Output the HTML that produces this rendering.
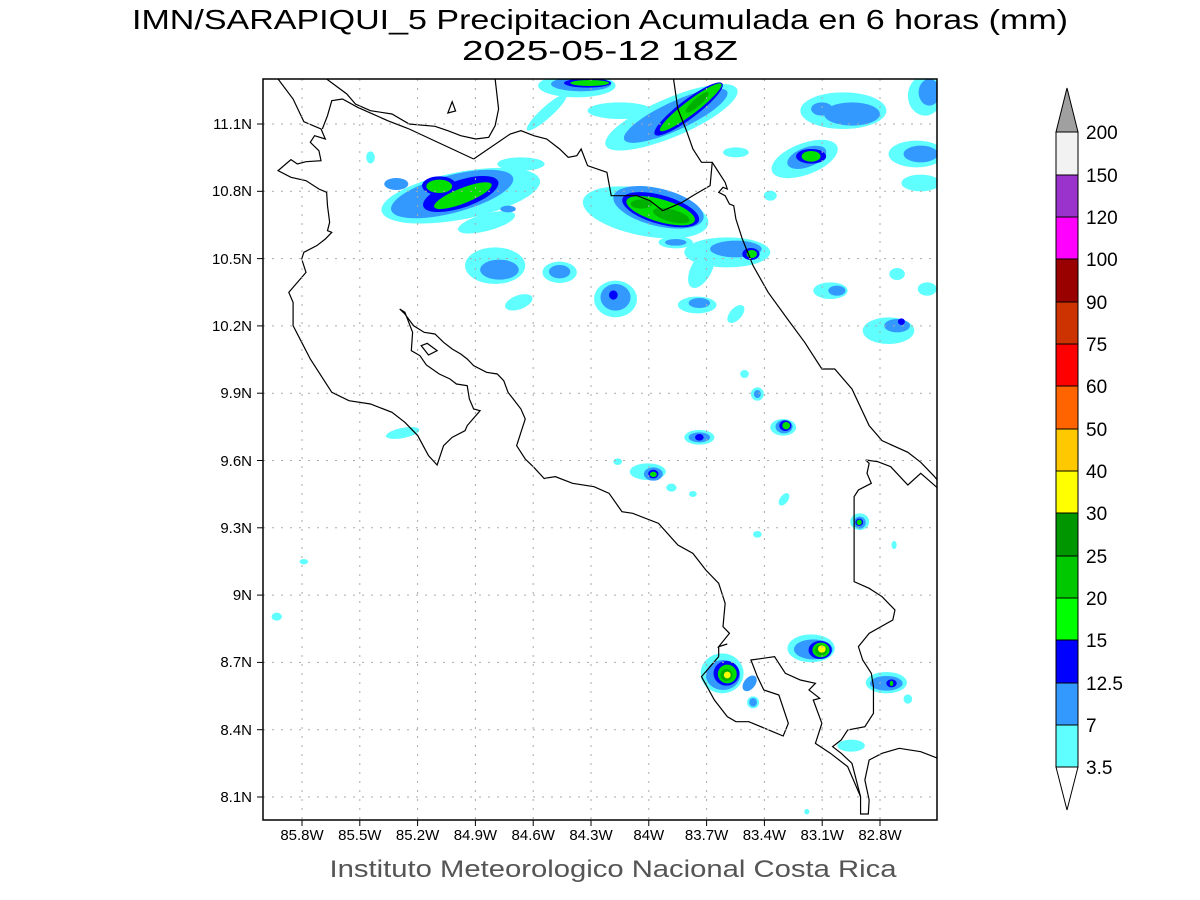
<!DOCTYPE html>
<html><head><meta charset="utf-8"><style>body{margin:0;background:#fff}svg{display:block}</style></head>
<body>
<svg width="1200" height="900" xmlns="http://www.w3.org/2000/svg" font-family="Liberation Sans, sans-serif">
<rect width="1200" height="900" fill="#fff"/>
<text x="600" y="29" font-size="28" text-anchor="middle" textLength="936" lengthAdjust="spacingAndGlyphs" fill="#000">IMN/SARAPIQUI_5 Precipitacion Acumulada en 6 horas (mm)</text>
<text x="600" y="60" font-size="28" text-anchor="middle" textLength="276" lengthAdjust="spacingAndGlyphs" fill="#000">2025-05-12 18Z</text>
<defs><clipPath id="c"><rect x="263" y="79" width="674" height="741"/></clipPath></defs>
<g clip-path="url(#c)">
<g transform="translate(263,79) scale(0.4299,0.33333)">
 <g fill="#60ffff">
  <ellipse cx="730" cy="20" rx="90" ry="35"/><ellipse cx="660" cy="100" rx="70" ry="15" transform="rotate(-50 660 100)"/>
  <ellipse cx="830" cy="95" rx="75" ry="25"/><ellipse cx="950" cy="115" rx="175" ry="55" transform="rotate(-30 950 115)"/>
  <ellipse cx="1350" cy="95" rx="100" ry="55"/><ellipse cx="1540" cy="50" rx="40" ry="60"/>
  <ellipse cx="1260" cy="240" rx="85" ry="45" transform="rotate(-30 1260 240)"/><ellipse cx="1520" cy="225" rx="65" ry="40"/>
  <ellipse cx="1530" cy="312" rx="45" ry="25"/><ellipse cx="1100" cy="220" rx="30" ry="15"/><ellipse cx="1180" cy="350" rx="15" ry="15"/>
  <ellipse cx="460" cy="350" rx="190" ry="70" transform="rotate(-15 460 350)"/><ellipse cx="250" cy="235" rx="10" ry="18"/>
  <ellipse cx="600" cy="255" rx="55" ry="20"/><ellipse cx="520" cy="430" rx="70" ry="25" transform="rotate(-20 520 430)"/>
  <ellipse cx="890" cy="400" rx="150" ry="70" transform="rotate(15 890 400)"/><ellipse cx="960" cy="490" rx="40" ry="18"/>
  <ellipse cx="1080" cy="520" rx="100" ry="45"/><ellipse cx="1020" cy="570" rx="25" ry="60" transform="rotate(20 1020 570)"/>
  <ellipse cx="540" cy="560" rx="70" ry="55"/><ellipse cx="690" cy="580" rx="40" ry="32"/><ellipse cx="820" cy="660" rx="50" ry="55"/>
  <ellipse cx="595" cy="670" rx="35" ry="20" transform="rotate(-30 595 670)"/><ellipse cx="1010" cy="678" rx="45" ry="25"/>
  <ellipse cx="1100" cy="705" rx="15" ry="30" transform="rotate(30 1100 705)"/><ellipse cx="1320" cy="635" rx="40" ry="25"/>
  <ellipse cx="1475" cy="585" rx="18" ry="18"/><ellipse cx="1545" cy="630" rx="22" ry="20"/><ellipse cx="1455" cy="755" rx="60" ry="40"/>
  <ellipse cx="325" cy="1062" rx="40" ry="15" transform="rotate(-15 325 1062)"/><ellipse cx="1150" cy="945" rx="15" ry="20"/>
  <ellipse cx="1210" cy="1045" rx="30" ry="25"/><ellipse cx="1015" cy="1075" rx="35" ry="22"/><ellipse cx="1120" cy="885" rx="10" ry="12"/>
 </g>
 <g fill="#3399ff">
  <ellipse cx="740" cy="15" rx="70" ry="22"/><ellipse cx="960" cy="110" rx="140" ry="40" transform="rotate(-32 960 110)"/>
  <ellipse cx="1370" cy="105" rx="65" ry="35"/><ellipse cx="1300" cy="90" rx="25" ry="20"/><ellipse cx="1550" cy="40" rx="25" ry="40"/>
  <ellipse cx="1265" cy="235" rx="50" ry="28" transform="rotate(-30 1265 235)"/><ellipse cx="1530" cy="225" rx="40" ry="25"/>
  <ellipse cx="440" cy="345" rx="150" ry="55" transform="rotate(-20 440 345)"/><ellipse cx="310" cy="315" rx="28" ry="18"/>
  <ellipse cx="920" cy="385" rx="110" ry="55" transform="rotate(20 920 385)"/><ellipse cx="1100" cy="510" rx="60" ry="25"/>
  <ellipse cx="550" cy="572" rx="45" ry="30"/><ellipse cx="690" cy="578" rx="25" ry="20"/><ellipse cx="820" cy="655" rx="35" ry="40"/>
  <ellipse cx="1015" cy="672" rx="25" ry="15"/><ellipse cx="1335" cy="635" rx="20" ry="15"/><ellipse cx="1475" cy="740" rx="30" ry="20"/>
  <ellipse cx="1150" cy="945" rx="8" ry="12"/><ellipse cx="1212" cy="1043" rx="20" ry="20"/><ellipse cx="1015" cy="1075" rx="25" ry="15"/>
  <ellipse cx="570" cy="390" rx="18" ry="10"/><ellipse cx="960" cy="490" rx="25" ry="10"/>
 </g>
 <g fill="#0000ff">
  <ellipse cx="755" cy="12" rx="55" ry="14"/><ellipse cx="990" cy="90" rx="110" ry="25" transform="rotate(-45 990 90)"/>
  <ellipse cx="1275" cy="232" rx="35" ry="22"/><ellipse cx="460" cy="345" rx="95" ry="40" transform="rotate(-25 460 345)"/>
  <ellipse cx="410" cy="320" rx="40" ry="28"/><ellipse cx="925" cy="392" rx="95" ry="42" transform="rotate(22 925 392)"/>
  <ellipse cx="1135" cy="525" rx="20" ry="18"/><ellipse cx="815" cy="648" rx="10" ry="14"/><ellipse cx="1485" cy="728" rx="8" ry="10"/>
  <ellipse cx="1215" cy="1040" rx="14" ry="16"/><ellipse cx="1015" cy="1075" rx="10" ry="10"/>
 </g>
 <g fill="#00e000">
  <ellipse cx="760" cy="12" rx="45" ry="9"/><ellipse cx="995" cy="85" rx="100" ry="18" transform="rotate(-45 995 85)"/>
  <ellipse cx="1275" cy="232" rx="22" ry="16"/><ellipse cx="465" cy="350" rx="75" ry="22" transform="rotate(-28 465 350)"/>
  <ellipse cx="410" cy="322" rx="30" ry="20"/><ellipse cx="925" cy="395" rx="85" ry="33" transform="rotate(22 925 395)"/>
  <ellipse cx="1137" cy="525" rx="12" ry="12"/><ellipse cx="1217" cy="1040" rx="9" ry="11"/>
 </g>
 <g fill="#00b000"><ellipse cx="950" cy="410" rx="45" ry="18" transform="rotate(20 950 410)"/><ellipse cx="1010" cy="70" rx="40" ry="10" transform="rotate(-50 1010 70)"/><ellipse cx="880" cy="375" rx="25" ry="14"/></g>
 <g fill="none" stroke="#000" stroke-width="1.2">
  <path vector-effect="non-scaling-stroke" d="M148,0 L195,45 215,75 250,95 300,105 340,135 400,142 430,155 460,170 495,180 525,175 540,140 548,90 540,0"/>
  <path vector-effect="non-scaling-stroke" d="M490,240 L440,210 340,150 290,125 220,85 185,60 160,65 150,110 138,150"/>
  <path vector-effect="non-scaling-stroke" d="M35,0 L70,60 95,128 135,150 145,180 120,170 110,190 130,215 135,245 100,248 80,255 65,242 35,275 65,295 100,305 130,330 148,340 150,380 155,430 150,455 160,460 145,480 125,500 95,520 90,540 100,580 80,610 60,640 70,670 70,740 90,790 110,840 160,940 200,965 250,975 300,1000 330,1030 360,1070 385,1130 405,1158 420,1100 440,1075 470,1055 475,1040 505,995 490,990 480,960 475,920 450,915 435,900 410,885 380,858 365,830 345,815 348,760 330,700 318,690 330,705 350,740 375,760 400,765 420,790 440,810 460,825 475,840 490,860 520,880 545,885 560,905 570,940 585,965 600,990 610,1020 600,1060 590,1100 610,1140 630,1165 655,1200"/>
  <path vector-effect="non-scaling-stroke" d="M430,102 L440,68 448,96 Z"/>
  <path vector-effect="non-scaling-stroke" d="M368,800 L382,793 405,815 385,828 Z"/>
  <path vector-effect="non-scaling-stroke" d="M490,240 L575,165 600,155 630,170 660,180 690,210 710,235 730,230 740,210 755,260 800,280 810,350 870,350 900,365 930,395 975,370 1000,350 1040,320 1045,250"/>
  <path vector-effect="non-scaling-stroke" d="M955,0 L965,90 985,155 1000,210 1020,250 1045,250 1055,270 1075,310 1080,330 1070,325 1060,340 1075,350 1085,375 1095,380 1100,420 1115,480 1140,560 1175,640 1220,720 1260,790 1300,870 1330,870 1370,930 1410,1040 1440,1085 1500,1120 1530,1150 1560,1190 1570,1205"/>
 </g>
</g>
<g transform="translate(263,460) scale(0.4299,0.33333)">
 <g fill="#60ffff">
  <ellipse cx="895" cy="35" rx="42" ry="25"/><ellipse cx="950" cy="83" rx="12" ry="12"/><ellipse cx="1000" cy="102" rx="9" ry="9"/>
  <ellipse cx="1212" cy="118" rx="10" ry="20" transform="rotate(25 1212 118)"/><ellipse cx="1388" cy="185" rx="22" ry="25"/>
  <ellipse cx="1150" cy="223" rx="10" ry="10"/><ellipse cx="95" cy="305" rx="10" ry="8"/><ellipse cx="32" cy="470" rx="12" ry="12"/>
  <ellipse cx="1275" cy="565" rx="55" ry="42"/><ellipse cx="1068" cy="640" rx="50" ry="60"/><ellipse cx="1140" cy="727" rx="14" ry="18"/>
  <ellipse cx="1450" cy="668" rx="48" ry="32"/><ellipse cx="1500" cy="717" rx="10" ry="14"/><ellipse cx="1368" cy="857" rx="32" ry="18"/>
  <ellipse cx="1468" cy="255" rx="6" ry="12"/><ellipse cx="1265" cy="1055" rx="6" ry="8"/><ellipse cx="825" cy="5" rx="10" ry="10"/>
 </g>
 <g fill="#3399ff">
  <ellipse cx="908" cy="42" rx="22" ry="20"/><ellipse cx="1388" cy="188" rx="14" ry="18"/><ellipse cx="1280" cy="568" rx="45" ry="30"/>
  <ellipse cx="1070" cy="645" rx="40" ry="45"/><ellipse cx="1132" cy="670" rx="14" ry="25" transform="rotate(25 1132 670)"/>
  <ellipse cx="1140" cy="727" rx="9" ry="13"/><ellipse cx="1450" cy="670" rx="38" ry="22"/>
 </g>
 <g fill="#0000ff"><ellipse cx="908" cy="42" rx="12" ry="13"/><ellipse cx="1296" cy="570" rx="27" ry="27"/><ellipse cx="1078" cy="640" rx="30" ry="37"/><ellipse cx="1462" cy="670" rx="12" ry="12"/><ellipse cx="1387" cy="187" rx="9" ry="11"/></g>
 <g fill="#00e000"><ellipse cx="908" cy="43" rx="8" ry="8"/><ellipse cx="1298" cy="570" rx="20" ry="22"/><ellipse cx="1080" cy="642" rx="22" ry="28"/><ellipse cx="1387" cy="187" rx="6" ry="8"/><ellipse cx="1462" cy="670" rx="4" ry="8"/></g>
 <g fill="#00b000"><ellipse cx="1298" cy="570" rx="14" ry="16"/><ellipse cx="1078" cy="645" rx="14" ry="18"/></g>
 <g fill="#ffff00"><ellipse cx="1300" cy="567" rx="9" ry="11"/><ellipse cx="1080" cy="645" rx="8" ry="10"/></g>
 <g fill="none" stroke="#000" stroke-width="1.2">
  <path vector-effect="non-scaling-stroke" d="M1060,590 L1020,650 1050,720 1080,770 1100,785 1130,785 1210,828 1222,790 1200,705 1165,690 1150,650 1135,600 1190,590 1215,640 1250,660 1285,670 1270,690 1295,715 1280,720 1300,790 1285,850 1320,880 1360,920 1390,1010 1390,1062 1408,1062 1410,1020 1400,960 1410,900 1440,880 1480,865 1530,875 1570,895"/>
  <path vector-effect="non-scaling-stroke" d="M1060,590 L1060,560 1080,552 1060,560 1085,520 1070,500 1075,430 1060,370 1030,330 1000,280 965,255 920,190 860,160 835,155 805,100 770,80 720,70 680,50 655,55"/>
  <path vector-effect="non-scaling-stroke" d="M1402,0 L1410,10 1405,40 1415,70 1385,90 1375,110 1375,365 1410,385 1440,410 1470,450 1465,480 1410,520 1385,560 1395,600 1415,640 1420,680 1420,760 1400,800 1360,810 1345,840 1325,860 1345,880 1370,910 1390,1010"/>
  <path vector-effect="non-scaling-stroke" d="M1402,0 L1430,5 1460,20 1500,75 1530,40 1570,85"/>
 </g>
</g>
<g stroke="#aaa" stroke-width="1" stroke-dasharray="2,7">
 <line x1="302" y1="79" x2="302" y2="820"/><line x1="359.8" y1="79" x2="359.8" y2="820"/><line x1="417.6" y1="79" x2="417.6" y2="820"/><line x1="475.4" y1="79" x2="475.4" y2="820"/><line x1="533.2" y1="79" x2="533.2" y2="820"/><line x1="591" y1="79" x2="591" y2="820"/><line x1="648.8" y1="79" x2="648.8" y2="820"/><line x1="706.6" y1="79" x2="706.6" y2="820"/><line x1="764.4" y1="79" x2="764.4" y2="820"/><line x1="822.2" y1="79" x2="822.2" y2="820"/><line x1="880" y1="79" x2="880" y2="820"/>
 <line x1="263" y1="124" x2="937" y2="124"/><line x1="263" y1="191.3" x2="937" y2="191.3"/><line x1="263" y1="258.6" x2="937" y2="258.6"/><line x1="263" y1="325.9" x2="937" y2="325.9"/><line x1="263" y1="393.2" x2="937" y2="393.2"/><line x1="263" y1="460.5" x2="937" y2="460.5"/><line x1="263" y1="527.8" x2="937" y2="527.8"/><line x1="263" y1="595.1" x2="937" y2="595.1"/><line x1="263" y1="662.4" x2="937" y2="662.4"/><line x1="263" y1="729.7" x2="937" y2="729.7"/><line x1="263" y1="797" x2="937" y2="797"/>
</g>
</g>
<rect x="263" y="79" width="674" height="741" fill="none" stroke="#000" stroke-width="1.5"/>
<g stroke="#000" stroke-width="1">
 <line x1="302" y1="820" x2="302" y2="826"/><line x1="359.8" y1="820" x2="359.8" y2="826"/><line x1="417.6" y1="820" x2="417.6" y2="826"/><line x1="475.4" y1="820" x2="475.4" y2="826"/><line x1="533.2" y1="820" x2="533.2" y2="826"/><line x1="591" y1="820" x2="591" y2="826"/><line x1="648.8" y1="820" x2="648.8" y2="826"/><line x1="706.6" y1="820" x2="706.6" y2="826"/><line x1="764.4" y1="820" x2="764.4" y2="826"/><line x1="822.2" y1="820" x2="822.2" y2="826"/><line x1="880" y1="820" x2="880" y2="826"/>
 <line x1="257" y1="124" x2="263" y2="124"/><line x1="257" y1="191.3" x2="263" y2="191.3"/><line x1="257" y1="258.6" x2="263" y2="258.6"/><line x1="257" y1="325.9" x2="263" y2="325.9"/><line x1="257" y1="393.2" x2="263" y2="393.2"/><line x1="257" y1="460.5" x2="263" y2="460.5"/><line x1="257" y1="527.8" x2="263" y2="527.8"/><line x1="257" y1="595.1" x2="263" y2="595.1"/><line x1="257" y1="662.4" x2="263" y2="662.4"/><line x1="257" y1="729.7" x2="263" y2="729.7"/><line x1="257" y1="797" x2="263" y2="797"/>
</g>
<g font-size="15" text-anchor="middle" fill="#000">
 <text x="302" y="840">85.8W</text><text x="359.8" y="840">85.5W</text><text x="417.6" y="840">85.2W</text><text x="475.4" y="840">84.9W</text><text x="533.2" y="840">84.6W</text><text x="591" y="840">84.3W</text><text x="648.8" y="840">84W</text><text x="706.6" y="840">83.7W</text><text x="764.4" y="840">83.4W</text><text x="822.2" y="840">83.1W</text><text x="880" y="840">82.8W</text>
</g>
<g font-size="15" text-anchor="end" fill="#000">
 <text x="252" y="129">11.1N</text><text x="252" y="196">10.8N</text><text x="252" y="264">10.5N</text><text x="252" y="331">10.2N</text><text x="252" y="398">9.9N</text><text x="252" y="466">9.6N</text><text x="252" y="533">9.3N</text><text x="252" y="600">9N</text><text x="252" y="667">8.7N</text><text x="252" y="735">8.4N</text><text x="252" y="802">8.1N</text>
</g>
<text x="613" y="877" font-size="24" text-anchor="middle" fill="#555" textLength="567" lengthAdjust="spacingAndGlyphs">Instituto Meteorologico Nacional Costa Rica</text>
<g stroke="#000" stroke-width="1">
 <polygon points="1056,767 1078,767 1067,810" fill="#fff"/>
 <polygon points="1056,132 1078,132 1067,88" fill="#a0a0a0"/>
 <rect x="1056" y="725" width="22" height="42" fill="#60ffff"/>
 <rect x="1056" y="683" width="22" height="42" fill="#3399ff"/>
 <rect x="1056" y="640" width="22" height="43" fill="#0000ff"/>
 <rect x="1056" y="598" width="22" height="42" fill="#00ff00"/>
 <rect x="1056" y="556" width="22" height="42" fill="#00c800"/>
 <rect x="1056" y="513" width="22" height="43" fill="#009600"/>
 <rect x="1056" y="471" width="22" height="42" fill="#ffff00"/>
 <rect x="1056" y="429" width="22" height="42" fill="#ffc800"/>
 <rect x="1056" y="386" width="22" height="43" fill="#ff6400"/>
 <rect x="1056" y="344" width="22" height="42" fill="#ff0000"/>
 <rect x="1056" y="302" width="22" height="42" fill="#cc3300"/>
 <rect x="1056" y="259" width="22" height="43" fill="#990000"/>
 <rect x="1056" y="217" width="22" height="42" fill="#ff00ff"/>
 <rect x="1056" y="175" width="22" height="42" fill="#9933cc"/>
 <rect x="1056" y="132" width="22" height="43" fill="#f2f2f2"/>
</g>
<g font-size="19" fill="#000">
 <text x="1086" y="774">3.5</text><text x="1086" y="732">7</text><text x="1086" y="690">12.5</text><text x="1086" y="647">15</text><text x="1086" y="605">20</text><text x="1086" y="563">25</text><text x="1086" y="520">30</text><text x="1086" y="478">40</text><text x="1086" y="436">50</text><text x="1086" y="393">60</text><text x="1086" y="351">75</text><text x="1086" y="309">90</text><text x="1086" y="266">100</text><text x="1086" y="224">120</text><text x="1086" y="182">150</text><text x="1086" y="139">200</text>
</g>
</svg>
</body></html>
